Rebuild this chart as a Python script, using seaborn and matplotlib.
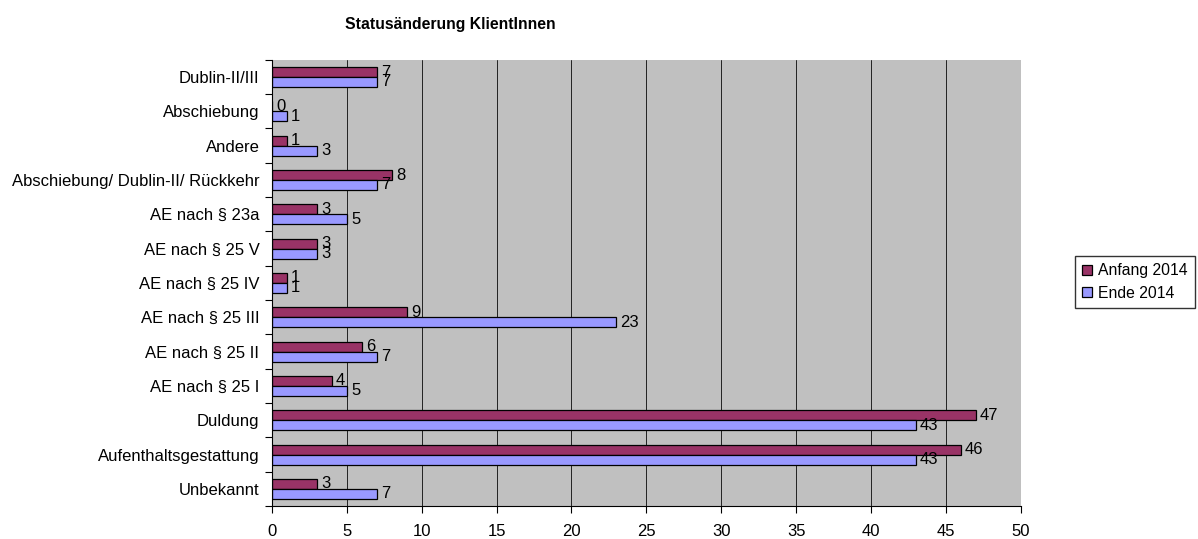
import matplotlib
matplotlib.use("Agg")
import matplotlib.pyplot as plt
from matplotlib.ticker import FixedLocator
import numpy as np
import pandas as pd
import seaborn as sns

categories = [
    "Dublin-II/III",
    "Abschiebung",
    "Andere",
    "Abschiebung/ Dublin-II/ Rückkehr",
    "AE nach § 23a",
    "AE nach § 25 V",
    "AE nach § 25 IV",
    "AE nach § 25 III",
    "AE nach § 25 II",
    "AE nach § 25 I",
    "Duldung",
    "Aufenthaltsgestattung",
    "Unbekannt",
]
anfang_2014 = [7, 0, 1, 8, 3, 3, 1, 9, 6, 4, 47, 46, 3]
ende_2014 = [7, 1, 3, 7, 5, 3, 1, 23, 7, 5, 43, 43, 7]
series_names = ["Anfang 2014", "Ende 2014"]
x_ticks = [0, 5, 10, 15, 20, 25, 30, 35, 40, 45, 50]
title = "Statusänderung KlientInnen"

df = pd.DataFrame({
    "Status": categories * 2,
    "Anzahl": anfang_2014 + ende_2014,
    "Zeitpunkt": [series_names[0]] * len(categories) + [series_names[1]] * len(categories),
})

sns.set_theme(style="white")
plt.rcParams["font.family"] = ["Liberation Sans", "DejaVu Sans"]
plt.rcParams["text.color"] = "black"
plt.rcParams["xtick.labelcolor"] = "black"
plt.rcParams["ytick.labelcolor"] = "black"

fig = plt.figure(figsize=(11.98, 5.39), dpi=100)
ax = fig.add_axes([0.227, 0.061, 0.625, 0.828])
ax.set_facecolor("#C0C0C0")

palette = {series_names[0]: "#993366", series_names[1]: "#9999FF"}
sns.barplot(
    data=df, y="Status", x="Anzahl", hue="Zeitpunkt", order=categories,
    hue_order=series_names, palette=palette, orient="h", width=0.58,
    edgecolor="black", linewidth=0.9, saturation=1, ax=ax, legend=True,
)

# value labels at the end of each bar
for container in ax.containers:
    ax.bar_label(container, padding=3, fontsize=12, color="black")

ax.set_xlim(0, 50)
ax.set_ylim(len(categories) - 0.5, -0.5)
ax.xaxis.set_major_locator(FixedLocator(x_ticks))
ax.set_xticklabels([str(t) for t in x_ticks], fontsize=12)
ax.grid(axis="x", color="#222222", linewidth=0.7)
ax.set_axisbelow(True)

# category tick marks sit between the groups
ax.yaxis.set_minor_locator(FixedLocator(np.arange(-0.5, len(categories), 1.0)))
ax.tick_params(axis="y", which="major", length=0, labelsize=12, pad=9, labelcolor="black")
ax.tick_params(axis="y", which="minor", length=5, width=0.8, color="black", left=True)
ax.tick_params(axis="x", which="major", length=5, width=0.8, color="black", bottom=True,
               labelsize=12, pad=8, labelcolor="black")

for side in ["top", "right"]:
    ax.spines[side].set_visible(False)
for side in ["left", "bottom"]:
    ax.spines[side].set_color("black")
    ax.spines[side].set_linewidth(0.8)

ax.set_xlabel("")
ax.set_ylabel("")

ax.legend(
    loc="center left", bbox_to_anchor=(1.073, 0.502), borderaxespad=0, fontsize=11.3,
    frameon=True, fancybox=False, edgecolor="black", handlelength=0.6, handleheight=0.6,
    handletextpad=0.4, borderpad=0.45, labelspacing=0.5, labelcolor="black",
)

fig.text(0.288, 0.955, title, fontsize=11.3, fontweight="bold", ha="left", va="center",
         color="black")

fig.savefig("out.png", dpi=100, facecolor="white")
